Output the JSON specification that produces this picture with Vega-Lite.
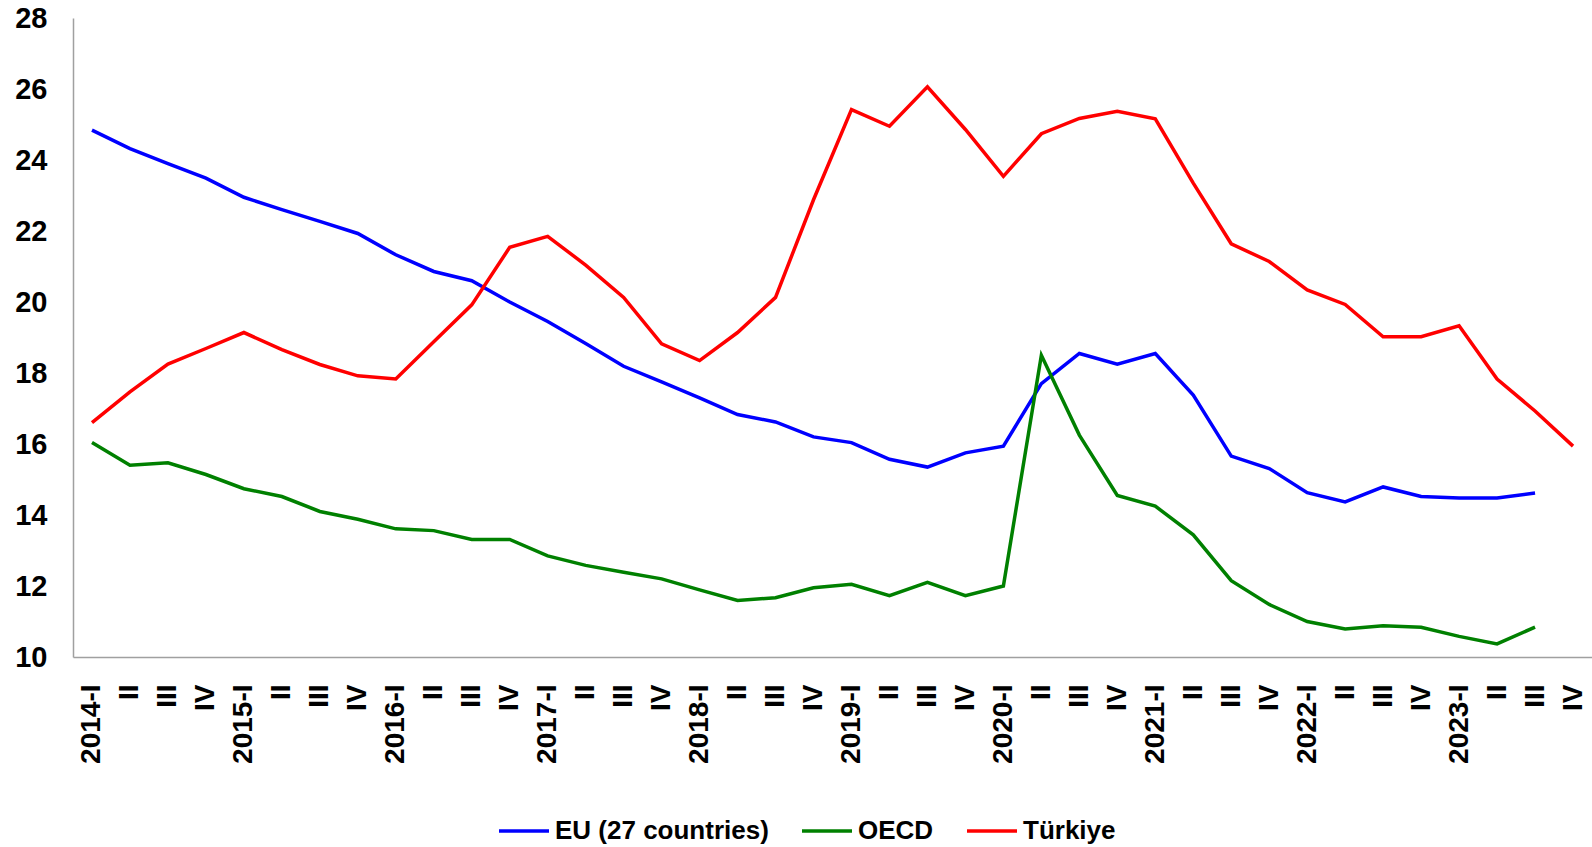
{
  "$schema": "https://vega.github.io/schema/vega-lite/v6.json",
  "autosize": {"type": "none"},
  "padding": {"left": 73, "top": 18, "right": 0, "bottom": 190},
  "width": 1519,
  "height": 639,
  "background": "white",
  "config": {"view": {"stroke": null}, "font": "Liberation Sans"},
  "data": {"values": [
    {"q":"2014-I","s":"EU (27 countries)","v":24.84},{"q":"2014-II","s":"EU (27 countries)","v":24.32},{"q":"2014-III","s":"EU (27 countries)","v":23.9},{"q":"2014-IV","s":"EU (27 countries)","v":23.49},
    {"q":"2015-I","s":"EU (27 countries)","v":22.95},{"q":"2015-II","s":"EU (27 countries)","v":22.6},{"q":"2015-III","s":"EU (27 countries)","v":22.27},{"q":"2015-IV","s":"EU (27 countries)","v":21.93},
    {"q":"2016-I","s":"EU (27 countries)","v":21.33},{"q":"2016-II","s":"EU (27 countries)","v":20.86},{"q":"2016-III","s":"EU (27 countries)","v":20.6},{"q":"2016-IV","s":"EU (27 countries)","v":20.0},
    {"q":"2017-I","s":"EU (27 countries)","v":19.45},{"q":"2017-II","s":"EU (27 countries)","v":18.83},{"q":"2017-III","s":"EU (27 countries)","v":18.19},{"q":"2017-IV","s":"EU (27 countries)","v":17.75},
    {"q":"2018-I","s":"EU (27 countries)","v":17.3},{"q":"2018-II","s":"EU (27 countries)","v":16.83},{"q":"2018-III","s":"EU (27 countries)","v":16.62},{"q":"2018-IV","s":"EU (27 countries)","v":16.2},
    {"q":"2019-I","s":"EU (27 countries)","v":16.04},{"q":"2019-II","s":"EU (27 countries)","v":15.57},{"q":"2019-III","s":"EU (27 countries)","v":15.35},{"q":"2019-IV","s":"EU (27 countries)","v":15.75},
    {"q":"2020-I","s":"EU (27 countries)","v":15.94},{"q":"2020-II","s":"EU (27 countries)","v":17.7},{"q":"2020-III","s":"EU (27 countries)","v":18.55},{"q":"2020-IV","s":"EU (27 countries)","v":18.25},
    {"q":"2021-I","s":"EU (27 countries)","v":18.55},{"q":"2021-II","s":"EU (27 countries)","v":17.38},{"q":"2021-III","s":"EU (27 countries)","v":15.66},{"q":"2021-IV","s":"EU (27 countries)","v":15.31},
    {"q":"2022-I","s":"EU (27 countries)","v":14.63},{"q":"2022-II","s":"EU (27 countries)","v":14.37},{"q":"2022-III","s":"EU (27 countries)","v":14.79},{"q":"2022-IV","s":"EU (27 countries)","v":14.52},
    {"q":"2023-I","s":"EU (27 countries)","v":14.48},{"q":"2023-II","s":"EU (27 countries)","v":14.48},{"q":"2023-III","s":"EU (27 countries)","v":14.62},

    {"q":"2014-I","s":"OECD","v":16.04},{"q":"2014-II","s":"OECD","v":15.4},{"q":"2014-III","s":"OECD","v":15.47},{"q":"2014-IV","s":"OECD","v":15.14},
    {"q":"2015-I","s":"OECD","v":14.74},{"q":"2015-II","s":"OECD","v":14.52},{"q":"2015-III","s":"OECD","v":14.1},{"q":"2015-IV","s":"OECD","v":13.88},
    {"q":"2016-I","s":"OECD","v":13.61},{"q":"2016-II","s":"OECD","v":13.56},{"q":"2016-III","s":"OECD","v":13.31},{"q":"2016-IV","s":"OECD","v":13.31},
    {"q":"2017-I","s":"OECD","v":12.85},{"q":"2017-II","s":"OECD","v":12.58},{"q":"2017-III","s":"OECD","v":12.39},{"q":"2017-IV","s":"OECD","v":12.2},
    {"q":"2018-I","s":"OECD","v":11.89},{"q":"2018-II","s":"OECD","v":11.59},{"q":"2018-III","s":"OECD","v":11.67},{"q":"2018-IV","s":"OECD","v":11.95},
    {"q":"2019-I","s":"OECD","v":12.05},{"q":"2019-II","s":"OECD","v":11.73},{"q":"2019-III","s":"OECD","v":12.1},{"q":"2019-IV","s":"OECD","v":11.73},
    {"q":"2020-I","s":"OECD","v":12.0},{"q":"2020-II","s":"OECD","v":18.5},{"q":"2020-III","s":"OECD","v":16.25},{"q":"2020-IV","s":"OECD","v":14.55},
    {"q":"2021-I","s":"OECD","v":14.25},{"q":"2021-II","s":"OECD","v":13.44},{"q":"2021-III","s":"OECD","v":12.15},{"q":"2021-IV","s":"OECD","v":11.48},
    {"q":"2022-I","s":"OECD","v":11.0},{"q":"2022-II","s":"OECD","v":10.79},{"q":"2022-III","s":"OECD","v":10.88},{"q":"2022-IV","s":"OECD","v":10.84},
    {"q":"2023-I","s":"OECD","v":10.58},{"q":"2023-II","s":"OECD","v":10.37},{"q":"2023-III","s":"OECD","v":10.84},

    {"q":"2014-I","s":"Türkiye","v":16.6},{"q":"2014-II","s":"Türkiye","v":17.47},{"q":"2014-III","s":"Türkiye","v":18.25},{"q":"2014-IV","s":"Türkiye","v":18.69},
    {"q":"2015-I","s":"Türkiye","v":19.14},{"q":"2015-II","s":"Türkiye","v":18.66},{"q":"2015-III","s":"Türkiye","v":18.24},{"q":"2015-IV","s":"Türkiye","v":17.92},
    {"q":"2016-I","s":"Türkiye","v":17.83},{"q":"2016-II","s":"Türkiye","v":18.88},{"q":"2016-III","s":"Türkiye","v":19.92},{"q":"2016-IV","s":"Türkiye","v":21.54},
    {"q":"2017-I","s":"Türkiye","v":21.85},{"q":"2017-II","s":"Türkiye","v":21.04},{"q":"2017-III","s":"Türkiye","v":20.13},{"q":"2017-IV","s":"Türkiye","v":18.82},
    {"q":"2018-I","s":"Türkiye","v":18.35},{"q":"2018-II","s":"Türkiye","v":19.14},{"q":"2018-III","s":"Türkiye","v":20.13},{"q":"2018-IV","s":"Türkiye","v":22.88},
    {"q":"2019-I","s":"Türkiye","v":25.42},{"q":"2019-II","s":"Türkiye","v":24.95},{"q":"2019-III","s":"Türkiye","v":26.06},{"q":"2019-IV","s":"Türkiye","v":24.86},
    {"q":"2020-I","s":"Türkiye","v":23.54},{"q":"2020-II","s":"Türkiye","v":24.74},{"q":"2020-III","s":"Türkiye","v":25.17},{"q":"2020-IV","s":"Türkiye","v":25.37},
    {"q":"2021-I","s":"Türkiye","v":25.16},{"q":"2021-II","s":"Türkiye","v":23.35},{"q":"2021-III","s":"Türkiye","v":21.64},{"q":"2021-IV","s":"Türkiye","v":21.14},
    {"q":"2022-I","s":"Türkiye","v":20.34},{"q":"2022-II","s":"Türkiye","v":19.93},{"q":"2022-III","s":"Türkiye","v":19.02},{"q":"2022-IV","s":"Türkiye","v":19.02},
    {"q":"2023-I","s":"Türkiye","v":19.33},{"q":"2023-II","s":"Türkiye","v":17.83},{"q":"2023-III","s":"Türkiye","v":16.93},{"q":"2023-IV","s":"Türkiye","v":15.94}
  ]},
  "mark": {"type": "line", "strokeWidth": 3.5, "strokeJoin": "miter"},
  "encoding": {
    "x": {
      "field": "q", "type": "ordinal", "sort": "ascending",
      "scale": {"type": "point", "padding": 0.5},
      "axis": {
        "title": null, "labelAngle": -90, "ticks": false, "tickSize": 0, "grid": false,
        "labelFont": "Liberation Sans", "labelFontSize": 28, "labelFontWeight": "bold", "labelColor": "#000000",
        "labelPadding": 27, "domainColor": "#A0A0A0", "domainWidth": 1.5,
        "labelOverlap": false, "labelFlush": false,
        "labelExpr": "slice(datum.value, 5) == 'I' ? datum.value : slice(datum.value, 5)"
      }
    },
    "y": {
      "field": "v", "type": "quantitative",
      "scale": {"domain": [10, 28], "nice": false, "zero": false},
      "axis": {
        "title": null, "values": [10, 12, 14, 16, 18, 20, 22, 24, 26, 28],
        "ticks": false, "tickSize": 0, "grid": false,
        "labelFont": "Liberation Sans", "labelFontSize": 29, "labelFontWeight": "bold", "labelColor": "#000000",
        "labelPadding": 26, "domainColor": "#A0A0A0", "domainWidth": 1.5, "labelFlush": false, "labelOverlap": false
      }
    },
    "color": {
      "field": "s", "type": "nominal",
      "scale": {"domain": ["EU (27 countries)", "OECD", "Türkiye"], "range": ["#0000FF", "#008000", "#FF0000"]},
      "legend": {
        "title": null, "orient": "none", "direction": "horizontal",
        "legendX": 424, "legendY": 786,
        "symbolType": "stroke", "symbolSize": 2500, "symbolStrokeWidth": 3.5,
        "labelFont": "Liberation Sans", "labelFontSize": 26, "labelFontWeight": "bold", "labelColor": "#000000",
        "labelOffset": 4, "columnPadding": 26, "padding": 0, "labelLimit": 400
      }
    }
  }
}
